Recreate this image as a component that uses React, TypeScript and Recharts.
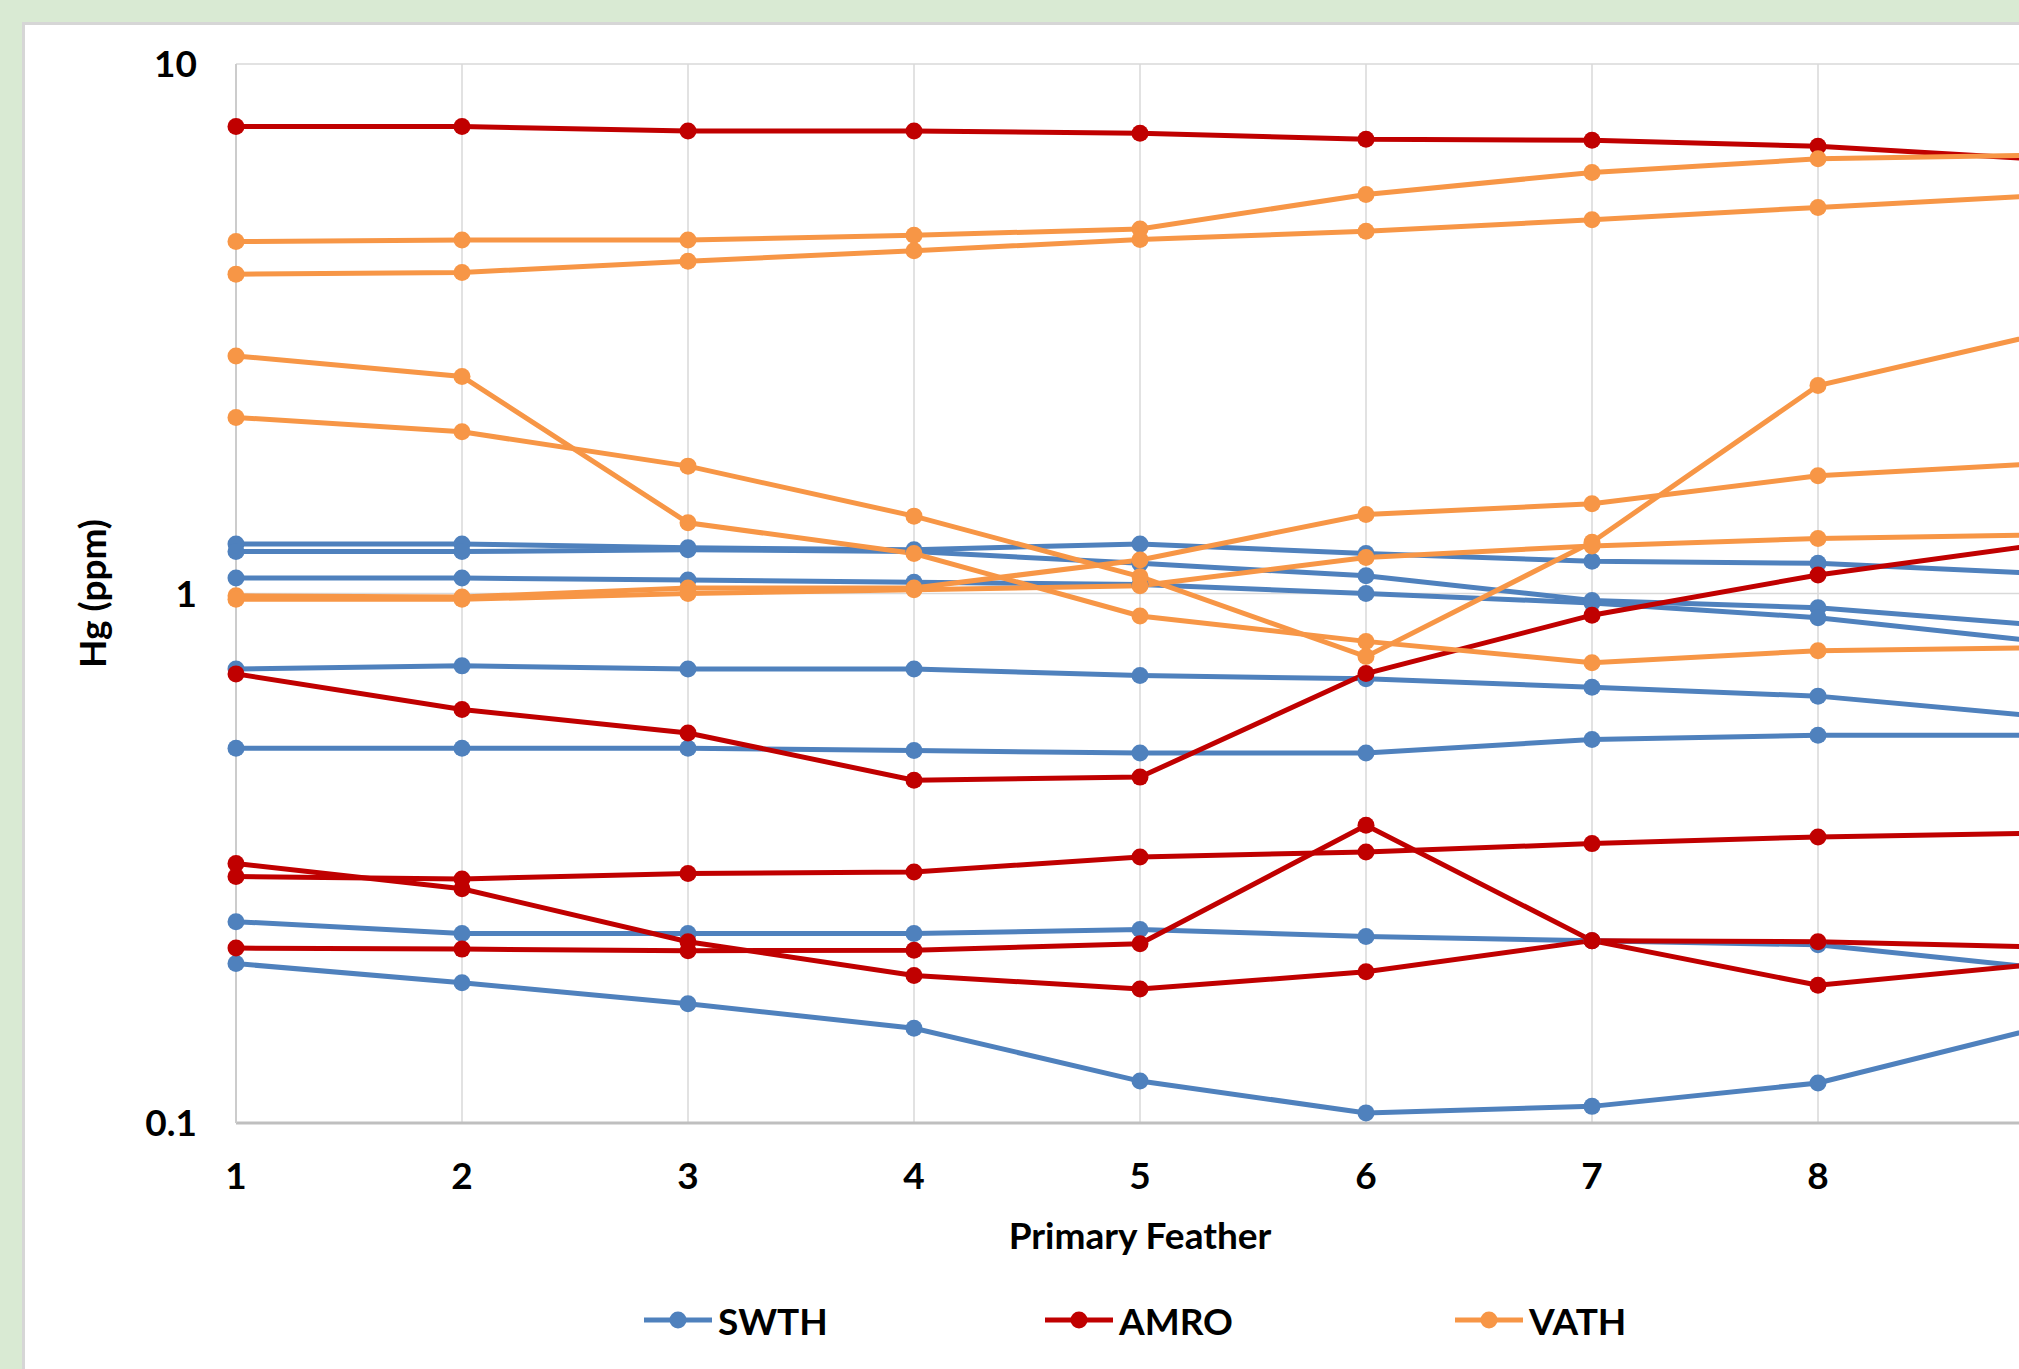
import { CartesianGrid, Legend, Line, LineChart, XAxis, YAxis } from "recharts";

const feathers = [1, 2, 3, 4, 5, 6, 7, 8, 9];
const yTicks = [0.1, 1, 10];

// SWTH birds
const swth1 = [1.24, 1.24, 1.22, 1.21, 1.24, 1.19, 1.15, 1.14, 1.09];
const swth2 = [1.2, 1.2, 1.21, 1.2, 1.14, 1.08, 0.97, 0.94, 0.87];
const swth3 = [1.07, 1.07, 1.06, 1.05, 1.04, 1.0, 0.96, 0.9, 0.81];
const swth4 = [0.72, 0.73, 0.72, 0.72, 0.7, 0.69, 0.665, 0.64, 0.585];
const swth5 = [0.51, 0.51, 0.51, 0.505, 0.5, 0.5, 0.53, 0.54, 0.54];
const swth6 = [0.24, 0.228, 0.228, 0.228, 0.232, 0.225, 0.221, 0.217, 0.196];
const swth7 = [0.2, 0.184, 0.168, 0.151, 0.12, 0.1045, 0.1075, 0.119, 0.152];

// AMRO birds
const amro1 = [7.62, 7.62, 7.47, 7.47, 7.4, 7.21, 7.18, 6.99, 6.6];
const amro2 = [0.705, 0.604, 0.545, 0.444, 0.45, 0.706, 0.91, 1.084, 1.24];
const amro3 = [0.309, 0.277, 0.22, 0.19, 0.179, 0.193, 0.221, 0.22, 0.215];
const amro4 = [0.214, 0.213, 0.2115, 0.212, 0.218, 0.365, 0.221, 0.182, 0.2];
const amro5 = [0.292, 0.289, 0.296, 0.298, 0.318, 0.325, 0.337, 0.347, 0.353];

// VATH birds
const vath1 = [4.62, 4.65, 4.65, 4.75, 4.88, 5.67, 6.24, 6.62, 6.73];
const vath2 = [4.01, 4.04, 4.24, 4.44, 4.66, 4.83, 5.08, 5.36, 5.65];
const vath3 = [2.81, 2.57, 1.36, 1.19, 0.907, 0.812, 0.74, 0.78, 0.79];
const vath4 = [2.15, 2.02, 1.74, 1.4, 1.076, 0.76, 1.25, 2.47, 3.1];
const vath5 = [0.99, 0.985, 1.024, 1.024, 1.157, 1.41, 1.477, 1.668, 1.76];
const vath6 = [0.975, 0.975, 1.0, 1.016, 1.034, 1.17, 1.23, 1.27, 1.29];

const species = [
  { name: "SWTH", color: "#4f81bd", birds: [swth1, swth2, swth3, swth4, swth5, swth6, swth7] },
  { name: "AMRO", color: "#c00000", birds: [amro1, amro2, amro3, amro4, amro5] },
  { name: "VATH", color: "#f79646", birds: [vath1, vath2, vath3, vath4, vath5, vath6] },
];

const data = feathers.map((f, i) => {
  const row: Record<string, number> = { feather: f };
  species.forEach((sp) =>
    sp.birds.forEach((b, j) => {
      row[`${sp.name}_${j}`] = b[i];
    })
  );
  return row;
});

const font = "Lato, 'Open Sans', sans-serif";
const textStyle = { fill: "#000", fontSize: 37, fontWeight: 700, fontFamily: font };

const CHART_W = 2090;
const CHART_H = 1369;
const LINE_W = 5;
const DOT_R = 8.5;
const legendLeft = [644, 1045, 1455];

const renderLegend = () => (
  <div style={{ position: "relative", width: CHART_W, height: 50 }}>
    {species.map((sp, i) => (
      <div
        key={sp.name}
        style={{ position: "absolute", left: legendLeft[i], top: 0, height: 50, display: "flex", alignItems: "center" }}
      >
        <svg width={68} height={20}>
          <line x1={0} y1={10} x2={68} y2={10} stroke={sp.color} strokeWidth={LINE_W} />
          <circle cx={34} cy={10} r={DOT_R} fill={sp.color} />
        </svg>
        <span style={{ marginLeft: 6, fontFamily: font, fontWeight: 700, fontSize: 37, color: "#000" }}>{sp.name}</span>
      </div>
    ))}
  </div>
);

const App = () => {
  return (
    <div
      style={{
        position: "fixed",
        left: 0,
        top: 0,
        width: 2019,
        height: 1369,
        overflow: "hidden",
        background: "#d9ead3",
      }}
    >
      <div
        style={{
          position: "absolute",
          left: 22,
          top: 22,
          width: 2100,
          height: 1400,
          background: "#fff",
          border: "3px solid #d6d6d6",
        }}
      />
      <div style={{ position: "absolute", left: 0, top: 0 }}>
        <LineChart width={CHART_W} height={CHART_H} data={data} margin={{ top: 64, right: 46, left: 0, bottom: 56 }}>
          <CartesianGrid stroke="#d9d9d9" strokeWidth={1.5} />
          <XAxis
            type="number"
            dataKey="feather"
            domain={[1, 9]}
            ticks={feathers}
            tickLine={false}
            tickSize={0}
            tickMargin={40}
            axisLine={{ stroke: "#bfbfbf", strokeWidth: 3 }}
            tick={textStyle}
            // tick 9 sits past the right edge of the cropped picture
            tickFormatter={(v: number) => (v === 9 ? "" : String(v))}
            height={140}
            label={{ value: "Primary Feather", position: "insideBottom", offset: 14, ...textStyle }}
          />
          <YAxis
            type="number"
            scale="log"
            domain={[0.1, 10]}
            ticks={yTicks}
            allowDataOverflow
            width={236}
            tickLine={false}
            tickSize={0}
            tickMargin={39}
            axisLine={{ stroke: "#cccccc", strokeWidth: 2 }}
            tick={textStyle}
            tickFormatter={(v: number) => String(v)}
            label={{
              value: "Hg (ppm)",
              angle: -90,
              position: "insideLeft",
              offset: 93,
              style: { textAnchor: "middle" },
              ...textStyle,
            }}
          />
          <Legend verticalAlign="bottom" content={renderLegend} wrapperStyle={{ left: 0, bottom: 24, width: CHART_W }} />
          {species.map((sp) =>
            sp.birds.map((_, j) => (
              <Line
                key={`${sp.name}_${j}`}
                dataKey={`${sp.name}_${j}`}
                type="linear"
                stroke={sp.color}
                strokeWidth={LINE_W}
                dot={{ r: DOT_R, fill: sp.color, stroke: sp.color, strokeWidth: 0 }}
                activeDot={false}
                legendType="none"
                isAnimationActive={false}
              />
            ))
          )}
        </LineChart>
      </div>
    </div>
  );
};

export default App;
